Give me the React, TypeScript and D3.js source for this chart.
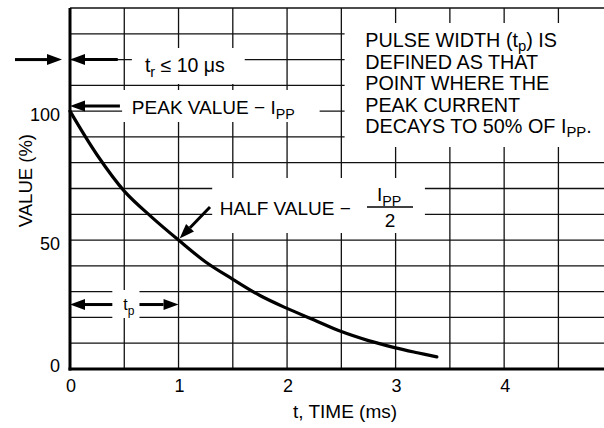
import React from 'react';
import * as d3 from 'd3';

// pulse waveform
const timeMs = [0, 0.25, 0.5, 0.75, 1, 1.25, 1.5, 1.75, 2, 2.25, 2.5, 2.75, 3, 3.2, 3.38];
const valuePct = [100, 83, 69, 59, 50, 41.5, 34.8, 28.5, 23.5, 19, 14.5, 11, 8.2, 6.3, 4.7];

const xTickLabels = [0, 1, 2, 3, 4];
const yTickLabels = [0, 50, 100];
const xGrid = [0.5, 1, 1.5, 2, 2.5, 3, 3.5, 4, 4.5];
const yGrid = [10, 20, 30, 40, 50, 60, 70, 80, 90, 100, 110, 120, 130, 140];

const pulseNote = [
  'PULSE WIDTH (t|p|) IS',
  'DEFINED AS THAT',
  'POINT WHERE THE',
  'PEAK CURRENT',
  'DECAYS TO 50% OF I|PP|.',
];

const W = 604;
const H = 428;
const FONT = 'Liberation Sans, Arial, Helvetica, sans-serif';

function Arrow({ x1, y1, x2, y2 }: { x1: number; y1: number; x2: number; y2: number }) {
  const a = Math.atan2(y2 - y1, x2 - x1);
  const len = 15;
  const hw = 5.5;
  const bx = x2 - len * Math.cos(a);
  const by = y2 - len * Math.sin(a);
  const px = -Math.sin(a) * hw;
  const py = Math.cos(a) * hw;
  return (
    <g>
      <line x1={x1} y1={y1} x2={bx} y2={by} stroke="#000" strokeWidth={3} />
      <polygon points={`${x2},${y2} ${bx + px},${by + py} ${bx - px},${by - py}`} fill="#000" />
    </g>
  );
}

// renders "A|sub|B" style strings with subscripts
function SubText({ s, x, y, size, shift = 5 }: { s: string; x: number; y: number; size: number; shift?: number }) {
  const parts = s.split('|');
  return (
    <text x={x} y={y} fontSize={size} fontFamily={FONT} fill="#000">
      {parts.map((p, i) =>
        i % 2 === 1 ? (
          <tspan key={i} fontSize={size * 0.75} dy={shift}>{p}</tspan>
        ) : (
          <tspan key={i} dy={i > 0 ? -shift : 0}>{p}</tspan>
        )
      )}
    </text>
  );
}

export default function App() {
  const x = d3.scaleLinear().domain([0, 4.92]).range([70, 604]);
  const y = d3.scaleLinear().domain([0, 140]).range([369, 8]);

  const line = d3
    .line<number>()
    .x((_, i) => x(timeMs[i]))
    .y((d) => y(d))
    .curve(d3.curveCatmullRom);

  const white = '#fff';

  return (
    <svg width={W} height={H} style={{ position: 'absolute', left: 0, top: 0, background: '#fff' }}>
      {/* grid */}
      {xGrid.map((t) => (
        <line key={'vx' + t} x1={x(t)} x2={x(t)} y1={y(0)} y2={y(140)} stroke="#111" strokeWidth={1.3} />
      ))}
      {yGrid.map((v) => (
        <line key={'hy' + v} x1={x(0)} x2={W} y1={y(v)} y2={y(v)} stroke="#111" strokeWidth={1.3} />
      ))}

      {/* white label boxes */}
      <rect x={x(0.57)} y={48} width={x(1.61) - x(0.57)} height={36} fill={white} />
      <rect x={x(0.48)} y={90} width={x(2.3) - x(0.48)} height={32} fill={white} />
      <rect x={x(2.53)} y={23} width={W - x(2.53)} height={124} fill={white} />
      <rect x={x(1.31)} y={178} width={x(3.27) - x(1.31)} height={55} fill={white} />
      <rect x={x(0.39)} y={290} width={x(0.64) - x(0.39)} height={28} fill={white} />

      {/* axes */}
      <line x1={x(0)} x2={x(0)} y1={y(140)} y2={y(0) + 1.5} stroke="#000" strokeWidth={3} />
      <line x1={x(0) - 1.5} x2={W} y1={y(0)} y2={y(0)} stroke="#000" strokeWidth={3} />

      {/* curve */}
      <path d={line(valuePct) ?? ''} fill="none" stroke="#000" strokeWidth={3.2} strokeLinecap="round" />

      {/* tick labels */}
      {xTickLabels.map((t) => (
        <text key={'xt' + t} x={x(t) + 1} y={392} fontSize={18} fontFamily={FONT} textAnchor="middle">
          {t}
        </text>
      ))}
      {yTickLabels.map((v) => (
        <text
          key={'yt' + v}
          x={60}
          y={y(v) + (v === 0 ? -1.5 : 5.5)}
          fontSize={18}
          fontFamily={FONT}
          textAnchor="end"
          dominantBaseline="middle"
        >
          {v}
        </text>
      ))}

      {/* axis titles */}
      <text x={345} y={418} fontSize={19} fontFamily={FONT} textAnchor="middle">
        t, TIME (ms)
      </text>
      <text
        transform={`translate(32,${(y(100) + y(50)) / 2 + 5}) rotate(-90)`}
        fontSize={18.5}
        fontFamily={FONT}
        textAnchor="middle"
      >
        VALUE (%)
      </text>

      {/* rise time */}
      <Arrow x1={15} y1={y(120)} x2={x(0) - 8} y2={y(120)} />
      <Arrow x1={x(0.44)} y1={y(120)} x2={x(0)} y2={y(120)} />
      <SubText s="t|r| ≤ 10 μs" x={x(0.69)} y={72} size={19.5} />

      {/* peak value */}
      <Arrow x1={x(0.46)} y1={y(102)} x2={x(0)} y2={y(102)} />
      <SubText s="PEAK VALUE − I|PP|" x={x(0.57)} y={114} size={19} />

      {/* pulse width note */}
      {pulseNote.map((s, i) => (
        <SubText key={'pn' + i} s={s} x={x(2.72)} y={47 + i * 21.6} size={19.8} shift={4} />
      ))}

      {/* half value */}
      <Arrow x1={x(1.29)} y1={207} x2={x(1.01)} y2={y(50) - 1.5} />
      <text x={x(1.38)} y={215} fontSize={19} fontFamily={FONT}>HALF VALUE −</text>
      <SubText s="I|PP|" x={377} y={201} size={19} />
      <line x1={367} x2={413} y1={207} y2={207} stroke="#000" strokeWidth={1.3} />
      <text x={390} y={227} fontSize={19} fontFamily={FONT} textAnchor="middle">2</text>

      {/* pulse width arrows */}
      <Arrow x1={x(0.39)} y1={y(25)} x2={x(0)} y2={y(25)} />
      <Arrow x1={x(0.64)} y1={y(25)} x2={x(1)} y2={y(25)} />
      <SubText s="t|p|" x={x(0.49)} y={310} size={16} />
    </svg>
  );
}
